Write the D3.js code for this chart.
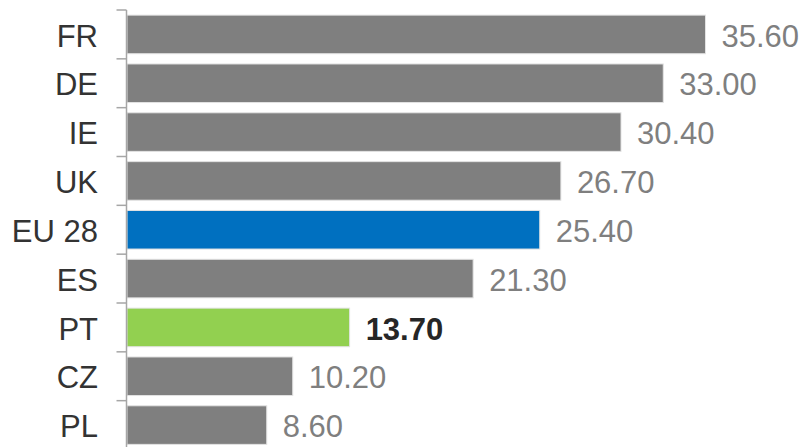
<!DOCTYPE html>
<html>
<head>
<meta charset="utf-8">
<script src="https://cdn.jsdelivr.net/npm/d3@7"></script>
<style>
  html, body { margin: 0; padding: 0; background: #fff; }
  svg { display: block; }
</style>
</head>
<body>
<svg id="chart" width="806" height="447"></svg>
<script>
// Countries, top to bottom, with their values
const countries = ["FR", "DE", "IE", "UK", "EU 28", "ES", "PT", "CZ", "PL"];
const values = [35.6, 33.0, 30.4, 26.7, 25.4, 21.3, 13.7, 10.2, 8.6];
const highlightAverage = "EU 28";
const highlightHome = "PT";

const colors = { base: "#7f7f7f", average: "#0070c0", home: "#92d050" };
const font = "'Liberation Sans', Arial, sans-serif";

const svg = d3.select("#chart");
const axisX = 126.5;
const barX = 127;

const y = d3.scaleBand()
  .domain(countries)
  .range([10, 449.5])
  .paddingInner(0.21)
  .paddingOuter(0.105);

const x = d3.scaleLinear()
  .domain([0, 40])
  .range([barX, barX + 650]);

const rows = countries.map((c, i) => ({ country: c, value: values[i] }));

// bars
svg.append("g").selectAll("rect")
  .data(rows)
  .join("rect")
  .attr("x", x(0))
  .attr("y", d => y(d.country))
  .attr("width", d => x(d.value) - x(0))
  .attr("height", y.bandwidth())
  .attr("fill", d => d.country === highlightAverage ? colors.average
                   : d.country === highlightHome ? colors.home : colors.base)
  .attr("stroke", "#e3e3e3")
  .attr("stroke-width", 1);

// value labels
svg.append("g").selectAll("text")
  .data(rows)
  .join("text")
  .attr("x", d => x(d.value) + 16)
  .attr("y", d => y(d.country) + y.bandwidth() / 2)
  .attr("dy", "0.39em")
  .attr("font-family", font)
  .attr("font-size", 31)
  .attr("font-weight", d => d.country === highlightHome ? "bold" : "normal")
  .attr("fill", d => d.country === highlightHome ? "#262626" : "#7f7f7f")
  .text(d => d.value.toFixed(2));

// category axis: line plus ticks between bands
const axis = svg.append("g");
axis.append("line")
  .attr("x1", axisX).attr("x2", axisX)
  .attr("y1", 10).attr("y2", 447)
  .attr("stroke", "#a6a6a6")
  .attr("stroke-width", 1.5);

const boundaries = d3.range(countries.length + 1).map(i => y.range()[0] + i * y.step());
axis.selectAll("line.tick")
  .data(boundaries)
  .join("line")
  .attr("class", "tick")
  .attr("x1", axisX - 10).attr("x2", axisX)
  .attr("y1", d => d).attr("y2", d => d)
  .attr("stroke", "#a6a6a6")
  .attr("stroke-width", 1.5);

axis.selectAll("text")
  .data(countries)
  .join("text")
  .attr("x", 98)
  .attr("y", d => y(d) + y.bandwidth() / 2)
  .attr("dy", "0.39em")
  .attr("text-anchor", "end")
  .attr("font-family", font)
  .attr("font-size", 31)
  .attr("fill", "#333333")
  .text(d => d);
</script>
</body>
</html>
